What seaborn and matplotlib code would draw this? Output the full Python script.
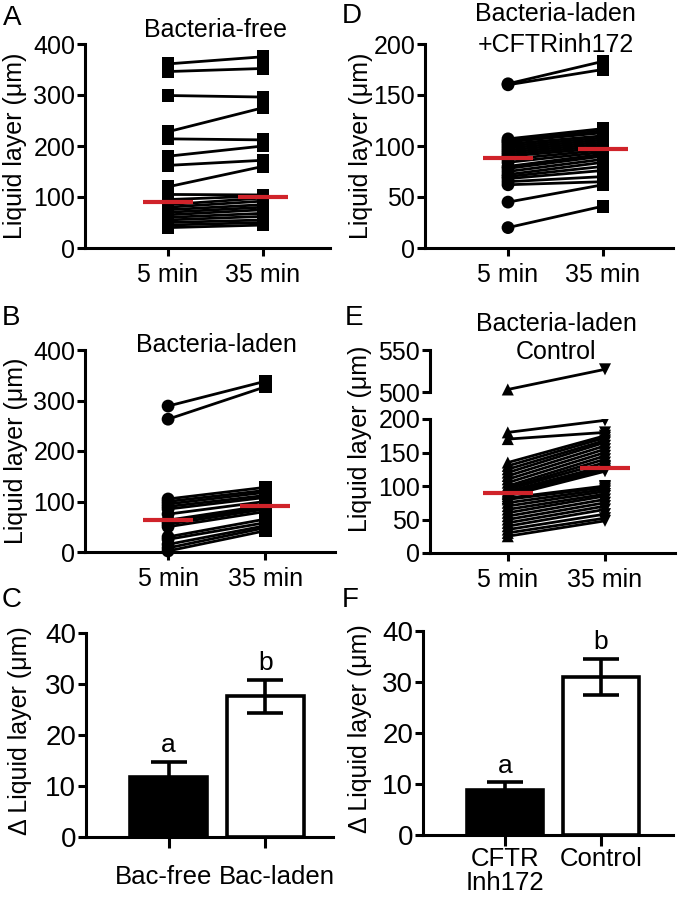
import numpy as np
import pandas as pd
import matplotlib
matplotlib.use('Agg')
import matplotlib.pyplot as plt
import matplotlib.transforms as mtransforms
import seaborn as sns

# DADOS
tempos = ['5 min', '35 min']

# A - Bacteria-free
a_5min = [361, 346, 299, 228, 214, 180, 162, 120, 105, 95, 85, 80, 75, 70, 65, 60, 55, 50, 45, 40]
a_35min = [375, 352, 296, 275, 212, 200, 172, 160, 104, 102, 98, 92, 85, 80, 75, 68, 62, 55, 50, 45]

# B - Bacteria-laden
b_5min = [289, 263, 105, 100, 95, 90, 85, 75, 63, 60, 55, 50, 30, 25, 15, 8, 2]
b_35min = [338, 327, 128, 122, 118, 112, 108, 100, 92, 88, 85, 80, 65, 58, 52, 48, 42]

# D - Bacteria-laden + CFTRinh172
d_5min = [161, 160, 107, 105, 104, 102, 100, 98, 96, 94, 92, 90, 87, 84, 80, 78, 75, 72, 70, 68, 65, 62, 45, 20]
d_35min = [183, 175, 117, 115, 113, 110, 108, 106, 104, 102, 100, 98, 96, 94, 92, 90, 87, 84, 80, 76, 70, 65, 62, 41]

# E - Bacteria-laden control
e_5min = [503, 180, 170, 135, 130, 125, 120, 115, 110, 105, 100, 97, 95, 92, 90, 88, 85, 82, 80, 75,
          70, 65, 60, 55, 50, 45, 40, 35, 30, 25]
e_35min = [527, 198, 180, 175, 172, 168, 165, 160, 155, 150, 145, 140, 135, 130, 128, 125, 122, 100, 98, 95,
           92, 88, 85, 80, 75, 70, 65, 58, 52, 48]

# C e F - delta (media +- EPM)
c_grupos = ['Bac-free', 'Bac-laden']
c_medias = [11.8, 27.6]
c_epm = [2.9, 3.2]
c_letras = ['a', 'b']

f_grupos = ['CFTR\nInh172', 'Control']
f_medias = [8.8, 31.0]
f_epm = [1.5, 3.6]
f_letras = ['a', 'b']

sns.set_style('ticks')
plt.rcParams['font.family'] = ['Liberation Sans', 'DejaVu Sans']
plt.rcParams['text.color'] = 'black'
plt.rcParams['axes.labelcolor'] = 'black'
plt.rcParams['xtick.color'] = 'black'
plt.rcParams['ytick.color'] = 'black'
plt.rcParams['axes.edgecolor'] = 'black'

W, H = 680, 899
fig = plt.figure(figsize=(W / 100, H / 100), dpi=100)
VERMELHO = '#d0232a'
LW = 2.2


def caixa(x0, y0, x1, y1):
    # caixa em pixels -> fracao da figura
    return [x0 / W, 1 - y1 / H, (x1 - x0) / W, (y1 - y0) / H]


def tabela_pares(v5, v35):
    n = len(v5)
    return pd.DataFrame({'id': list(range(n)) * 2,
                         'tempo': [tempos[0]] * n + [tempos[1]] * n,
                         'pos': [0] * n + [1] * n,
                         'valor': list(v5) + list(v35)})


def pareado(ax, v5, v35, marcadores, clip=False, s=85, mediana=True):
    df = tabela_pares(v5, v35)
    sns.lineplot(data=df, x='pos', y='valor', units='id', estimator=None, sort=False,
                 color='black', lw=2.0, ax=ax, legend=False)
    sns.scatterplot(data=df, x='pos', y='valor', style='tempo', style_order=tempos,
                    markers=marcadores, color='black', s=s, linewidth=0,
                    ax=ax, legend=False, clip_on=clip, zorder=3)
    if mediana:
        for i, v in enumerate([v5, v35]):
            ax.hlines(np.median(v), i - 0.26, i + 0.26, color=VERMELHO, lw=3.0, zorder=4)


def estilo(ax, ylim, yticks, xlim, fs=18, padx=5):
    ax.set_ylim(*ylim)
    ax.set_yticks(yticks)
    ax.set_xlim(*xlim)
    sns.despine(ax=ax)
    for s in ['left', 'bottom']:
        ax.spines[s].set_linewidth(LW)
    ax.tick_params(axis='both', width=LW, length=6, labelsize=fs)
    ax.tick_params(axis='y', pad=1)
    ax.tick_params(axis='x', pad=padx)
    ax.set_xlabel('')
    ax.set_ylabel('')


def eixo_tempo(ax):
    ax.set_xticks([0, 1])
    ax.set_xticklabels(tempos)


def titulo(ax, linhas, ys, fs=18):
    trans = mtransforms.blended_transform_factory(ax.transData, ax.transAxes)
    for txt, y in zip(linhas, ys):
        ax.text(0.5, y, txt, transform=trans, ha='center', va='baseline', fontsize=fs, zorder=10)


# PAINEL A
axA = fig.add_axes(caixa(85, 44, 330, 248))
pareado(axA, a_5min, a_35min, {'5 min': 's', '35 min': 's'})
estilo(axA, (0, 400), [0, 100, 200, 300, 400], (-0.874, 1.705))
eixo_tempo(axA)
axA.set_ylabel('Liquid layer (μm)', fontsize=18)
axA.yaxis.set_label_coords(-0.237, 0.5)
titulo(axA, ['Bacteria-free'], [1.034])

# PAINEL B
axB = fig.add_axes(caixa(85, 350, 335, 552))
pareado(axB, b_5min, b_35min, {'5 min': 'o', '35 min': 's'})
estilo(axB, (0, 400), [0, 100, 200, 300, 400], (-0.856, 1.72))
eixo_tempo(axB)
axB.set_ylabel('Liquid layer (μm)', fontsize=18)
axB.yaxis.set_label_coords(-0.228, 0.5)
titulo(axB, ['Bacteria-laden'], [0.99])

# PAINEL D
axD = fig.add_axes(caixa(425, 44, 673, 248))
pareado(axD, d_5min, d_35min, {'5 min': 'o', '35 min': 's'})
estilo(axD, (0, 200), [0, 50, 100, 150, 200], (-0.874, 1.737))
eixo_tempo(axD)
axD.set_ylabel('Liquid layer (μm)', fontsize=18)
axD.yaxis.set_label_coords(-0.21, 0.5)
titulo(axD, ['Bacteria-laden', '+CFTRinh172'], [1.113, 0.961])

# PAINEL E (eixo quebrado: 0-200 embaixo, 500-550 em cima)
axE = fig.add_axes(caixa(430, 419, 675, 553))
axE2 = fig.add_axes(caixa(430, 350, 675, 392))
axE.patch.set_alpha(0)
axE2.patch.set_alpha(0)
pareado(axE, e_5min, e_35min, {'5 min': '^', '35 min': 'v'}, clip=True, s=75)
altos = [i for i, v in enumerate(e_5min) if v >= 500]
pareado(axE2, [e_5min[i] for i in altos], [e_35min[i] for i in altos],
        {'5 min': '^', '35 min': 'v'}, clip=False, s=75, mediana=False)
estilo(axE, (0, 200), [0, 50, 100, 150, 200], (-0.80, 1.72))
estilo(axE2, (500, 550), [500, 550], (-0.80, 1.72))
eixo_tempo(axE)
axE2.spines['bottom'].set_visible(False)
axE2.set_xticks([])
fig.text(360 / W, 1 - 439 / H, 'Liquid layer (μm)', rotation=90, ha='center', va='center', fontsize=18)
titulo(axE2, ['Bacteria-laden', 'Control'], [1.46, 0.79])


# PAINEIS DE BARRAS
def barras(ax, grupos, medias, epm, letras, xlim, padx):
    sns.barplot(x=grupos, y=medias, hue=grupos, palette=['black', 'white'], saturation=1,
                edgecolor='black', linewidth=2.6, width=0.8, legend=False, ax=ax)
    ax.errorbar(range(len(grupos)), medias, yerr=epm, fmt='none', ecolor='black',
                elinewidth=2.6, capsize=13, capthick=2.6, zorder=5)
    for i, (m, e, l) in enumerate(zip(medias, epm, letras)):
        ax.annotate(l, (i, m + e), xytext=(0, 7), textcoords='offset points',
                    ha='center', va='baseline', fontsize=19)
    estilo(ax, (0, 40), [0, 10, 20, 30, 40], xlim, fs=20, padx=padx)
    ax.tick_params(axis='x', labelsize=18.5, length=8)
    ax.set_ylabel('Δ Liquid layer (μm)', fontsize=18)


axC = fig.add_axes(caixa(86, 633, 333, 837))
barras(axC, c_grupos, c_medias, c_epm, c_letras, (-0.855, 1.70), padx=12)
axC.yaxis.set_label_coords(-0.219, 0.52)
for lab, dx in zip(axC.get_xticklabels(), [-5, 12]):
    lab.set_transform(lab.get_transform() + mtransforms.ScaledTranslation(dx / 100, 0, fig.dpi_scale_trans))

axF = fig.add_axes(caixa(423, 631, 673, 835))
barras(axF, f_grupos, f_medias, f_epm, f_letras, (-0.854, 1.75), padx=1)
axF.yaxis.set_label_coords(-0.204, 0.52)
for lab in axF.get_xticklabels():
    lab.set_linespacing(0.95)

# LETRAS DOS PAINEIS
for letra, x, y in [('A', 3, 25), ('D', 342, 23), ('B', 2, 325), ('E', 345, 325), ('C', 2, 607), ('F', 342, 607)]:
    fig.text(x / W, 1 - y / H, letra, fontsize=20, ha='left', va='baseline')

plt.savefig('out.png', dpi=100)
